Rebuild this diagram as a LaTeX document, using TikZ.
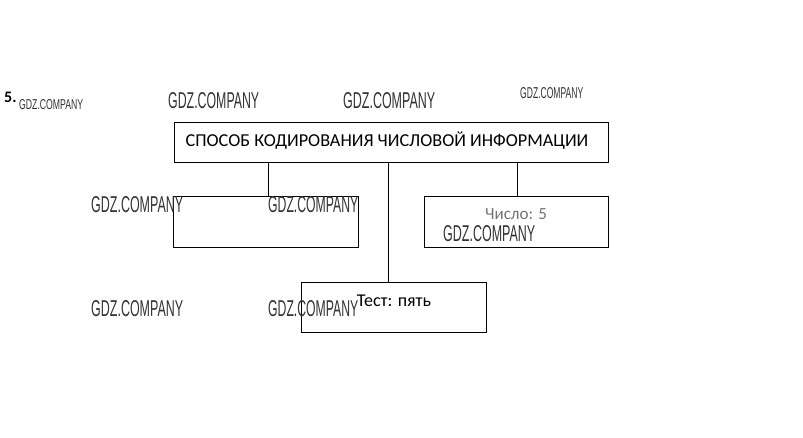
\documentclass[tikz,border=0pt]{standalone}
\usepackage{fontspec}
\setmainfont{Carlito}
\newfontfamily\wmfont{Liberation Sans}
\usepackage{graphicx}
\begin{document}
\begin{tikzpicture}[x=1pt,y=-1pt,
  box/.style={draw=black, line width=0.75pt, inner sep=0pt, anchor=north west},
  txt/.style={inner sep=0pt, text=black},
  wmbig/.style={inner sep=0pt, anchor=south west, text=black!80},
  conn/.style={draw=black, line width=0.75pt}]
\useasboundingbox[fill=white] (0,0) rectangle (803,437);
% boxes
\node[box, minimum width=434pt, minimum height=40pt] (top) at (174,122) {};
\node[box, minimum width=185pt, minimum height=51pt] (left) at (173,196) {};
\node[box, minimum width=184pt, minimum height=51pt] (right) at (424,196) {};
\node[box, minimum width=185pt, minimum height=50pt] (bottom) at (301,282) {};
% texts
\node[txt, font=\fontsize{18.2}{21}\selectfont] (ttop) at (387,141) {СПОСОБ КОДИРОВАНИЯ ЧИСЛОВОЙ ИНФОРМАЦИИ};
\node[txt, font=\fontsize{17}{20}\selectfont, text=black!55] (tright) at (516,214) {Число: 5};
\node[txt, font=\fontsize{18}{21}\selectfont] (tbottom) at (394,301) {Тест: пять};
\node[txt, anchor=south west, font=\bfseries\fontsize{16}{18}\selectfont] (num) at (4,103) {5.};
% connectors
\draw[conn] ([xshift=2.5pt]left.north |- top.south) -- ([xshift=2.5pt]left.north);
\draw[conn] ([xshift=-5.5pt]bottom.north |- top.south) -- ([xshift=-5.5pt]bottom.north);
\draw[conn] ([xshift=1pt]right.north |- top.south) -- ([xshift=1pt]right.north);
% watermarks
\node[wmbig] (w1) at (19,110) {\resizebox{64pt}{10pt}{\wmfont GDZ.COMPANY}};
\node[wmbig] (w2) at (168,109) {\resizebox{91pt}{16pt}{\wmfont GDZ.COMPANY}};
\node[wmbig] (w3) at (343,109) {\resizebox{92pt}{16pt}{\wmfont GDZ.COMPANY}};
\node[wmbig] (w4) at (520,99) {\resizebox{63pt}{11pt}{\wmfont GDZ.COMPANY}};
\node[wmbig] (w5) at (91,213) {\resizebox{92pt}{16pt}{\wmfont GDZ.COMPANY}};
\node[wmbig] (w6) at (268,213) {\resizebox{90pt}{16pt}{\wmfont GDZ.COMPANY}};
\node[wmbig] (w7) at (443,242) {\resizebox{92pt}{16pt}{\wmfont GDZ.COMPANY}};
\node[wmbig] (w8) at (91,317) {\resizebox{92pt}{16pt}{\wmfont GDZ.COMPANY}};
\node[wmbig] (w9) at (268,317) {\resizebox{90pt}{16pt}{\wmfont GDZ.COMPANY}};
\end{tikzpicture}
\end{document}
